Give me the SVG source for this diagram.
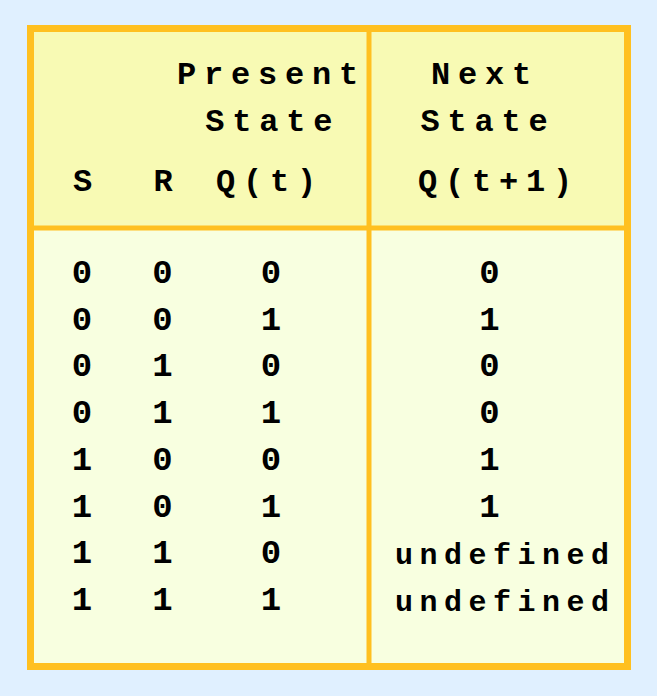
<svg xmlns="http://www.w3.org/2000/svg" width="657" height="696" viewBox="0 0 657 696">
<style>
.h{font-family:"Liberation Mono","Courier New",monospace;font-weight:bold;font-size:32px;letter-spacing:7.8px;fill:#000;text-anchor:middle}
.d{font-family:"Liberation Mono","Courier New",monospace;font-weight:bold;font-size:34px;fill:#000;text-anchor:middle}
.u{font-family:"Liberation Mono","Courier New",monospace;font-weight:bold;font-size:30px;letter-spacing:6.5px;fill:#000;text-anchor:middle}
.ln{stroke:#ffc020;fill:none}
</style>
<rect x="0" y="0" width="657" height="696" fill="#e0f0ff"/>
<g id="table">
<rect x="30.5" y="28.5" width="597" height="199.5" fill="#f8fab4"/>
<rect x="30.5" y="228" width="597" height="438.5" fill="#f8ffe0"/>
<line class="ln" x1="30.5" y1="228" x2="627.5" y2="228" stroke-width="5"/>
<line class="ln" x1="369" y1="28.5" x2="369" y2="666.5" stroke-width="5"/>
<rect class="ln" x="30.5" y="28.5" width="597" height="638" stroke-width="7"/>
</g>
<g id="header">
<text class="h" x="271.4" y="84">Present</text>
<text class="h" x="272.7" y="131">State</text>
<text class="h" x="86.4" y="191">S</text>
<text class="h" x="166.9" y="191">R</text>
<text class="h" x="269.9" y="191">Q(t)</text>
<text class="h" x="484.9" y="84">Next</text>
<text class="h" x="487.9" y="131">State</text>
<text class="h" x="498.9" y="191">Q(t+1)</text>
</g>
<g id="rows">
<g class="d">
<text x="82" y="283">0</text><text x="162.5" y="283">0</text><text x="271" y="283">0</text><text x="489.5" y="283">0</text>
<text x="82" y="330">0</text><text x="162.5" y="330">0</text><text x="271" y="330">1</text><text x="489.5" y="330">1</text>
<text x="82" y="376">0</text><text x="162.5" y="376">1</text><text x="271" y="376">0</text><text x="489.5" y="376">0</text>
<text x="82" y="423">0</text><text x="162.5" y="423">1</text><text x="271" y="423">1</text><text x="489.5" y="423">0</text>
<text x="82" y="470">1</text><text x="162.5" y="470">0</text><text x="271" y="470">0</text><text x="489.5" y="470">1</text>
<text x="82" y="517">1</text><text x="162.5" y="517">0</text><text x="271" y="517">1</text><text x="489.5" y="517">1</text>
<text x="82" y="563">1</text><text x="162.5" y="563">1</text><text x="271" y="563">0</text>
<text x="82" y="610">1</text><text x="162.5" y="610">1</text><text x="271" y="610">1</text>
</g>
<text class="u" x="505.2" y="564">undefined</text>
<text class="u" x="505.2" y="611">undefined</text>
</g>
</svg>
